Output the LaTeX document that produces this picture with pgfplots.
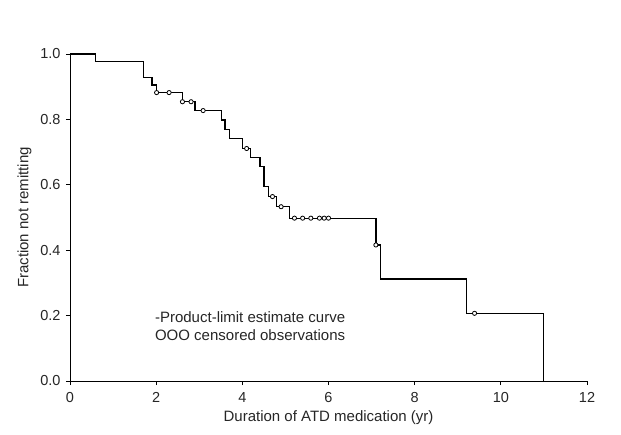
\documentclass[border=0pt]{standalone}
\usepackage{fontspec}
\setmainfont{Liberation Sans}
\usepackage{pgfplots}
\pgfplotsset{compat=1.18}

\begin{document}
\begin{tikzpicture}
\begin{axis}[
  scale only axis,
  width=517pt, height=327pt,
  xmin=0, xmax=12, ymin=0, ymax=1,
  axis lines*=left,
  axis line style={line width=0.9pt},
  tick align=outside,
  major tick length=4pt,
  tick style={line width=0.9pt, black},
  xtick={0,2,4,6,8,10,12},
  ytick={0,0.2,0.4,0.6,0.8,1.0},
  /pgf/number format/assume math mode=true,
  ticklabel style={font=\fontsize{14.5}{17}\selectfont, text=black!85},
  xticklabel style={yshift=-4pt},
  yticklabel style={xshift=-2pt, /pgf/number format/.cd, fixed, fixed zerofill, precision=1},
  label style={font=\fontsize{15}{18}\selectfont, text=black!85},
  xlabel={Duration of ATD medication (yr)},
  ylabel={Fraction not remitting},
  xlabel style={yshift=-1pt},
  ylabel style={yshift=2pt},
  clip=false,
]
% product-limit estimate
\addplot[const plot mark left, line width=1.3pt, black, no marks]
  coordinates {
  (0,1.000) (0.60,0.976) (1.70,0.929) (1.90,0.905) (2.01,0.882)
  (2.61,0.854) (2.90,0.827) (3.52,0.798) (3.60,0.770) (3.71,0.741)
  (4.01,0.711) (4.19,0.684) (4.41,0.655) (4.50,0.594) (4.60,0.564)
  (4.80,0.533) (5.09,0.498) (7.10,0.416) (7.20,0.312) (9.21,0.207)
  (10.99,0.000)
  };
% censored observations
\addplot[only marks, mark=*, mark size=2.1pt, black,
  mark options={fill=white, draw=black, line width=0.8pt}]
  coordinates {
  (2.01,0.882) (2.30,0.882) (2.61,0.854) (2.81,0.854) (3.09,0.827)
  (4.10,0.711) (4.70,0.564) (4.90,0.533) (5.21,0.498) (5.40,0.498)
  (5.59,0.498) (5.79,0.498) (5.90,0.498) (6.00,0.498) (7.10,0.416)
  (9.39,0.207)
  };
\node[anchor=west, align=left, inner sep=0pt, text=black!85,
  font=\fontsize{15}{18}\selectfont] at (axis cs:1.97,0.167)
  {-Product-limit estimate curve\\OOO censored observations};
\coordinate (O) at (rel axis cs:0,0);
\end{axis}
\pgfresetboundingbox
\path[use as bounding box] (O) ++(-70pt,-53pt) rectangle ++(621pt,434pt);
\end{tikzpicture}
\end{document}
